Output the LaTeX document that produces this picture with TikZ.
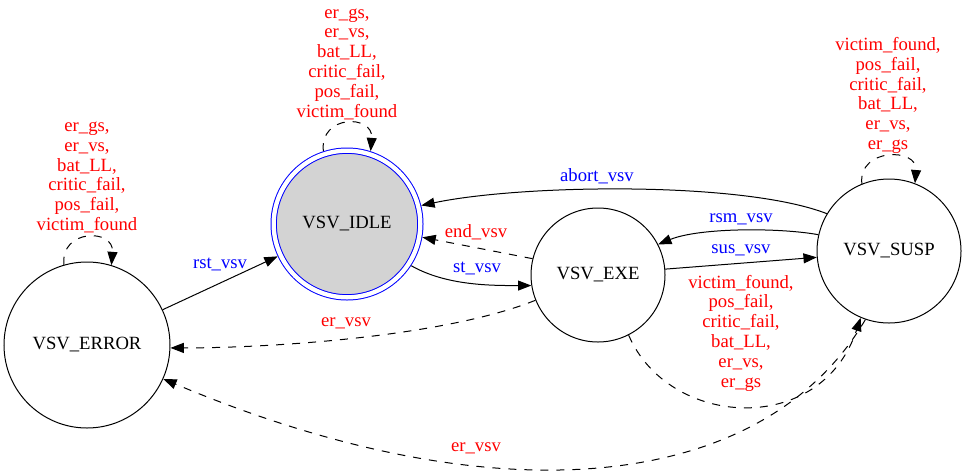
\documentclass[tikz,border=0pt]{standalone}
\usepackage{fontspec}
\setmainfont{Liberation Serif}
\usetikzlibrary{arrows.meta}
\definecolor{gvred}{HTML}{FF0000}
\definecolor{gvblue}{HTML}{0000FF}
\definecolor{gvgray}{HTML}{D3D3D3}
\begin{document}
\begin{tikzpicture}[x=0.75pt,y=-0.75pt,
  every node/.style={font=\fontsize{14pt}{14.85pt}\selectfont},
  state/.style={circle,draw,line width=0.75pt,inner sep=0pt},
  edge/.style={line width=0.75pt,-{Triangle[length=10pt,width=7.5pt]}},
  dsh/.style={dash pattern=on 6pt off 6pt},
  redlbl/.style={text=gvred,align=center,inner sep=0pt},
  bluelbl/.style={text=gvblue,inner sep=0pt}]
\useasboundingbox (0,0) rectangle (966,475);
% states
\node[state,minimum size=124.5pt] (err) at (87,345) {VSV\_ERROR};
\node[circle,draw=gvblue,line width=0.75pt,double=white,double distance=3.25pt,
      fill=gvgray,minimum size=110pt,inner sep=0pt,outer sep=2.4pt] (idle) at (347,224) {VSV\_IDLE};
\node[state,minimum size=100.5pt] (exe) at (598,275) {VSV\_EXE};
\node[state,minimum size=108pt] (susp) at (889,251) {VSV\_SUSP};
% edges
\draw[edge] (err.25) -- (idle.205);
\draw[edge] (idle.-33) .. controls +(35,20) and +(-40,0) .. (exe.189);
\draw[edge,dsh] (exe.166) -- (idle.-10);
\draw[edge] (susp.149) .. controls +(-85,-33) and +(99,-21) .. (idle.14);
\draw[edge] (susp.167) .. controls +(-38,-7) and +(42,-17) .. (exe.27);
\draw[edge] (exe.5) -- (susp.185);
\draw[edge,dsh] (exe.202) .. controls +(-87,35) and +(110,0) .. (err.-2);
\draw[edge,dsh] (exe.-63) .. controls +(40,93) and +(-40,120) .. (susp.247);
\draw[edge,dsh] (susp.251) .. controls +(-100,170) and +(340,143) .. (err.-24);
% self loops
\draw[edge,dsh] (err.106) .. controls +(-4,-36) and +(3,-37) .. (err.73);
\draw[edge,dsh] (idle.108) .. controls +(-4,-37) and +(3,-37) .. (idle.72);
\draw[edge,dsh] (susp.112) .. controls +(-4,-36) and +(3,-36) .. (susp.69);
% labels
\node[redlbl] (lerr) at (87,177.5) {er\_gs,\\er\_vs,\\bat\_LL,\\critic\_fail,\\pos\_fail,\\victim\_found};
\node[redlbl] (lidle) at (347,64) {er\_gs,\\er\_vs,\\bat\_LL,\\critic\_fail,\\pos\_fail,\\victim\_found};
\node[redlbl] (lsusp) at (888,95.5) {victim\_found,\\pos\_fail,\\critic\_fail,\\bat\_LL,\\er\_vs,\\er\_gs};
\node[redlbl] (lexesusp) at (741,333) {victim\_found,\\pos\_fail,\\critic\_fail,\\bat\_LL,\\er\_vs,\\er\_gs};
\node[bluelbl] (lrst) at (220,264) {rst\_vsv};
\node[bluelbl] (lst) at (477,268) {st\_vsv};
\node[redlbl] (lend) at (476,232) {end\_vsv};
\node[bluelbl] (labort) at (597,176) {abort\_vsv};
\node[bluelbl] (lrsm) at (741,219) {rsm\_vsv};
\node[bluelbl] (lsus) at (741,250) {sus\_vsv};
\node[redlbl] (lerv1) at (346,323) {er\_vsv};
\node[redlbl] (lerv2) at (476,448) {er\_vsv};
\end{tikzpicture}
\end{document}
